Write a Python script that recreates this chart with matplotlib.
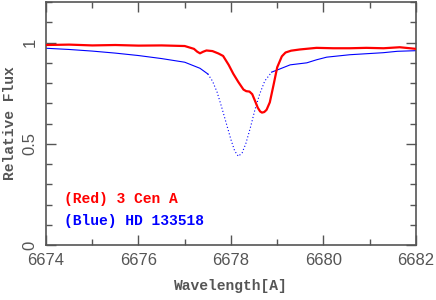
import matplotlib
matplotlib.use("Agg")
import matplotlib.pyplot as plt
import numpy as np
from matplotlib.ticker import MultipleLocator

# 3 Cen A (red)
red_wl = [6674.0, 6674.5, 6675.0, 6675.5, 6676.0, 6676.5, 6677.0, 6677.2,
          6677.27, 6677.33, 6677.4, 6677.47, 6677.6, 6677.73, 6677.83,
          6677.95, 6678.05, 6678.16, 6678.27, 6678.33, 6678.4, 6678.46,
          6678.52, 6678.58, 6678.63, 6678.67, 6678.72, 6678.77, 6678.84,
          6678.92, 6679.0, 6679.1, 6679.18, 6679.3, 6679.49, 6679.85,
          6680.21, 6680.57, 6680.93, 6681.3, 6681.65, 6682.0]
red_flux = [0.988, 0.990, 0.986, 0.988, 0.985, 0.986, 0.983, 0.969,
            0.955, 0.947, 0.955, 0.961, 0.958, 0.946, 0.934,
            0.89, 0.846, 0.805, 0.768, 0.760, 0.758, 0.745,
            0.712, 0.678, 0.660, 0.654, 0.657, 0.668, 0.705,
            0.79, 0.878, 0.932, 0.951, 0.960, 0.966, 0.974,
            0.972, 0.972, 0.974, 0.972, 0.977, 0.969]

# HD 133518 (blue)
blue_wl = [6674.0, 6674.5, 6675.0, 6675.5, 6676.0, 6676.5, 6677.0, 6677.33,
           6677.5, 6677.6, 6677.7, 6677.8, 6677.9, 6678.0, 6678.08, 6678.16,
           6678.24, 6678.32, 6678.42, 6678.52, 6678.62, 6678.73, 6678.88,
           6679.06, 6679.28, 6679.64, 6679.85, 6680.07, 6680.57, 6681.29,
           6681.6, 6682.0]
blue_flux = [0.972, 0.966, 0.958, 0.948, 0.936, 0.921, 0.903, 0.873,
             0.845, 0.81, 0.755, 0.68, 0.60, 0.52, 0.465, 0.438,
             0.455, 0.50, 0.58, 0.67, 0.745, 0.81, 0.854,
             0.87, 0.89, 0.90, 0.915, 0.928, 0.94, 0.95,
             0.957, 0.96]

GRAY = "#555555"
LABEL_FONT = dict(family="Liberation Mono", weight="bold", size=10.5)

fig = plt.figure(figsize=(4.36, 3.0), dpi=100)
ax = fig.add_axes([0.1055, 0.1833, 0.8485, 0.8097])

ax.plot(red_wl, red_flux, color="red", lw=1.6, zorder=3)

# the core of the blue line is drawn dotted like the original
bw = np.array(blue_wl)
bf = np.array(blue_flux)
core = (bw >= 6677.5) & (bw <= 6678.88)
ax.plot(bw[bw <= 6677.5], bf[bw <= 6677.5], color="blue", lw=0.8)
ax.plot(bw[core], bf[core], color="blue", lw=0.8, ls=(0, (1, 2)))
ax.plot(bw[bw >= 6678.88], bf[bw >= 6678.88], color="blue", lw=0.8)

ax.set_xlim(6674, 6682)
ax.set_ylim(0, 1.2)
ax.xaxis.set_major_locator(MultipleLocator(2))
ax.xaxis.set_minor_locator(MultipleLocator(1))
ax.yaxis.set_minor_locator(MultipleLocator(0.1))
ax.set_yticks([0, 0.5, 1])
ax.set_yticklabels(["0", "0.5", "1"], rotation=90, va="center")

ax.tick_params(which="both", direction="in", top=True, right=True,
               color=GRAY, width=1.0, labelcolor=GRAY, labelsize=12)
ax.tick_params(which="major", length=7, pad=6)
ax.tick_params(which="minor", length=4.5)
for lab in ax.get_xticklabels() + ax.get_yticklabels():
    lab.set_family("Liberation Sans")
for sp in ax.spines.values():
    sp.set_color(GRAY)
    sp.set_linewidth(1.2)

ax.set_xlabel("Wavelength[A]", color=GRAY, labelpad=8, **LABEL_FONT)
ax.set_ylabel("Relative Flux", color=GRAY, labelpad=4, **LABEL_FONT)

ax.text(6674.38, 0.225, "(Red) 3 Cen A", color="red", va="center", **LABEL_FONT)
ax.text(6674.38, 0.12, "(Blue) HD 133518", color="blue", va="center", **LABEL_FONT)

fig.savefig("out.png", dpi=100)
